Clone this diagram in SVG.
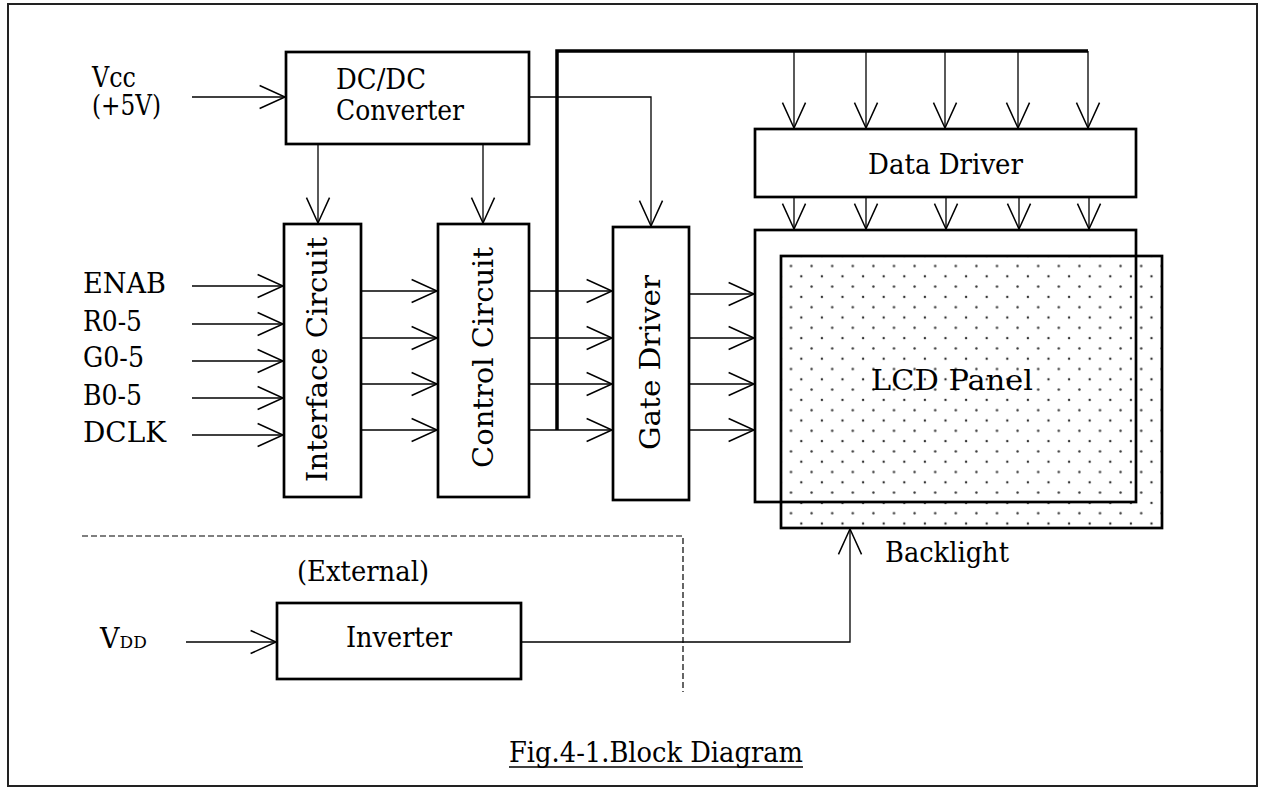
<svg xmlns="http://www.w3.org/2000/svg" width="1263" height="787" viewBox="0 0 1263 787">
<style>
  text { font-family: "DejaVu Serif", "Liberation Serif", serif; font-size: 27px; fill: #000; }
  .box { fill: none; stroke: #000; stroke-width: 2.7; }
  .ln { fill: none; stroke: #000; stroke-width: 1.3; }
  .arr { fill: none; stroke: #000; stroke-width: 1.3; marker-end: url(#ah); }
  .bus { fill: none; stroke: #000; stroke-width: 3.5; }
  .dash { fill: none; stroke: #000; stroke-width: 1.2; stroke-dasharray: 6 3; }
</style>
<defs>
  <marker id="ah" markerUnits="userSpaceOnUse" markerWidth="30" markerHeight="30" viewBox="-24 -12 26 24" refX="0" refY="0" orient="auto" overflow="visible">
    <path d="M-22,-10 L0,0 L-22,10" fill="none" stroke="#000" stroke-width="1.3"/>
  </marker>
  <pattern id="dots" patternUnits="userSpaceOnUse" x="780.7" y="255.7" width="20.6" height="20.6">
    <circle cx="0" cy="0" r="1.2" fill="#333"/>
    <circle cx="20.6" cy="0" r="1.2" fill="#333"/>
    <circle cx="0" cy="20.6" r="1.2" fill="#333"/>
    <circle cx="20.6" cy="20.6" r="1.2" fill="#333"/>
    <circle cx="10.3" cy="10.3" r="1.2" fill="#333"/>
  </pattern>
</defs>
<rect x="0" y="0" width="1263" height="787" fill="#fff"/>
<rect id="frame" x="8" y="4" width="1249" height="782" fill="none" stroke="#222" stroke-width="2"/>

<g id="vcc-label">
  <text x="92" y="87" textLength="44" lengthAdjust="spacingAndGlyphs">Vcc</text>
  <text x="92" y="115" textLength="69" lengthAdjust="spacingAndGlyphs">(+5V)</text>
</g>
<g id="dcdc">
  <rect class="box" x="286" y="52" width="243" height="92"/>
  <text x="336" y="89" textLength="90" lengthAdjust="spacingAndGlyphs">DC/DC</text>
  <text x="336" y="120" textLength="128" lengthAdjust="spacingAndGlyphs">Converter</text>
</g>
<g id="inputs">
  <text x="83" y="293" textLength="83" lengthAdjust="spacingAndGlyphs">ENAB</text>
  <text x="83" y="331" textLength="59" lengthAdjust="spacingAndGlyphs">R0-5</text>
  <text x="83" y="367" textLength="61" lengthAdjust="spacingAndGlyphs">G0-5</text>
  <text x="83" y="405" textLength="59" lengthAdjust="spacingAndGlyphs">B0-5</text>
  <text x="83" y="442" textLength="83" lengthAdjust="spacingAndGlyphs">DCLK</text>
</g>
<g id="interface">
  <rect class="box" x="284" y="224" width="77" height="273"/>
  <text transform="translate(327,359.5) rotate(-90)" text-anchor="middle" textLength="245" lengthAdjust="spacingAndGlyphs">Interface Circuit</text>
</g>
<g id="control">
  <rect class="box" x="438" y="224" width="91" height="273"/>
  <text transform="translate(493,357.5) rotate(-90)" text-anchor="middle" textLength="221" lengthAdjust="spacingAndGlyphs">Control Circuit</text>
</g>
<g id="gate">
  <rect class="box" x="613" y="227" width="76" height="273"/>
  <text transform="translate(660,362.5) rotate(-90)" text-anchor="middle" textLength="175" lengthAdjust="spacingAndGlyphs">Gate Driver</text>
</g>
<g id="datadriver">
  <rect class="box" x="755" y="129" width="381" height="68"/>
  <text x="945.5" y="174" text-anchor="middle" textLength="155" lengthAdjust="spacingAndGlyphs">Data Driver</text>
</g>
<g id="backlight">
  <rect x="781" y="256" width="381" height="272" fill="url(#dots)" stroke="#000" stroke-width="2.7"/>
  <text x="885" y="562" textLength="124" lengthAdjust="spacingAndGlyphs">Backlight</text>
</g>
<g id="lcdpanel">
  <rect class="box" x="755" y="230" width="381" height="272"/>
  <text x="952" y="390" text-anchor="middle" textLength="162" lengthAdjust="spacingAndGlyphs">LCD Panel</text>
</g>
<g id="external">
  <text x="297" y="581" textLength="132" lengthAdjust="spacingAndGlyphs">(External)</text>
</g>
<g id="vdd-label">
  <text x="100" y="648">V<tspan font-size="17">DD</tspan></text>
</g>
<g id="inverter">
  <rect class="box" x="277" y="603" width="244" height="76"/>
  <text x="346" y="647" textLength="106" lengthAdjust="spacingAndGlyphs">Inverter</text>
</g>
<g id="caption">
  <text x="509" y="762" textLength="294" lengthAdjust="spacingAndGlyphs">Fig.4-1.Block Diagram</text>
  <line x1="509" y1="767" x2="803" y2="767" stroke="#000" stroke-width="1.5"/>
</g>

<g id="connectors">
  <!-- power -->
  <path class="arr" d="M192,97 H285"/>
  <path class="arr" d="M318,144 V223"/>
  <path class="arr" d="M483,144 V223"/>
  <path class="arr" d="M529,97 H651 V226"/>
  <!-- inputs -->
  <path class="arr" d="M192,286 H283"/>
  <path class="arr" d="M192,324 H283"/>
  <path class="arr" d="M192,361 H283"/>
  <path class="arr" d="M192,398 H283"/>
  <path class="arr" d="M192,435 H283"/>
  <!-- interface to control -->
  <path class="arr" d="M361,291 H437"/>
  <path class="arr" d="M361,338 H437"/>
  <path class="arr" d="M361,384 H437"/>
  <path class="arr" d="M361,430 H437"/>
  <!-- control to gate -->
  <path class="arr" d="M529,291 H612"/>
  <path class="arr" d="M529,338 H612"/>
  <path class="arr" d="M529,384 H612"/>
  <path class="arr" d="M529,430 H612"/>
  <!-- gate to panel -->
  <path class="arr" d="M689,294 H754"/>
  <path class="arr" d="M689,338 H754"/>
  <path class="arr" d="M689,384 H754"/>
  <path class="arr" d="M689,430 H754"/>
  <!-- bus -->
  <path class="bus" d="M557,430 V51 H1088"/>
  <!-- bus to data driver -->
  <path class="arr" d="M794,51 V128"/>
  <path class="arr" d="M866,51 V128"/>
  <path class="arr" d="M945,51 V128"/>
  <path class="arr" d="M1018,51 V128"/>
  <path class="arr" d="M1088,51 V128"/>
  <!-- data driver to panel -->
  <path class="arr" d="M794,197 V229"/>
  <path class="arr" d="M866,197 V229"/>
  <path class="arr" d="M946,197 V229"/>
  <path class="arr" d="M1019,197 V229"/>
  <path class="arr" d="M1089,197 V229"/>
  <!-- VDD to inverter, inverter to backlight -->
  <path class="arr" d="M186,642 H276"/>
  <path class="arr" d="M521,642 H850 V529"/>
  <!-- external boundary -->
  <path class="dash" d="M82,536 H683 V692"/>
</g>
</svg>
